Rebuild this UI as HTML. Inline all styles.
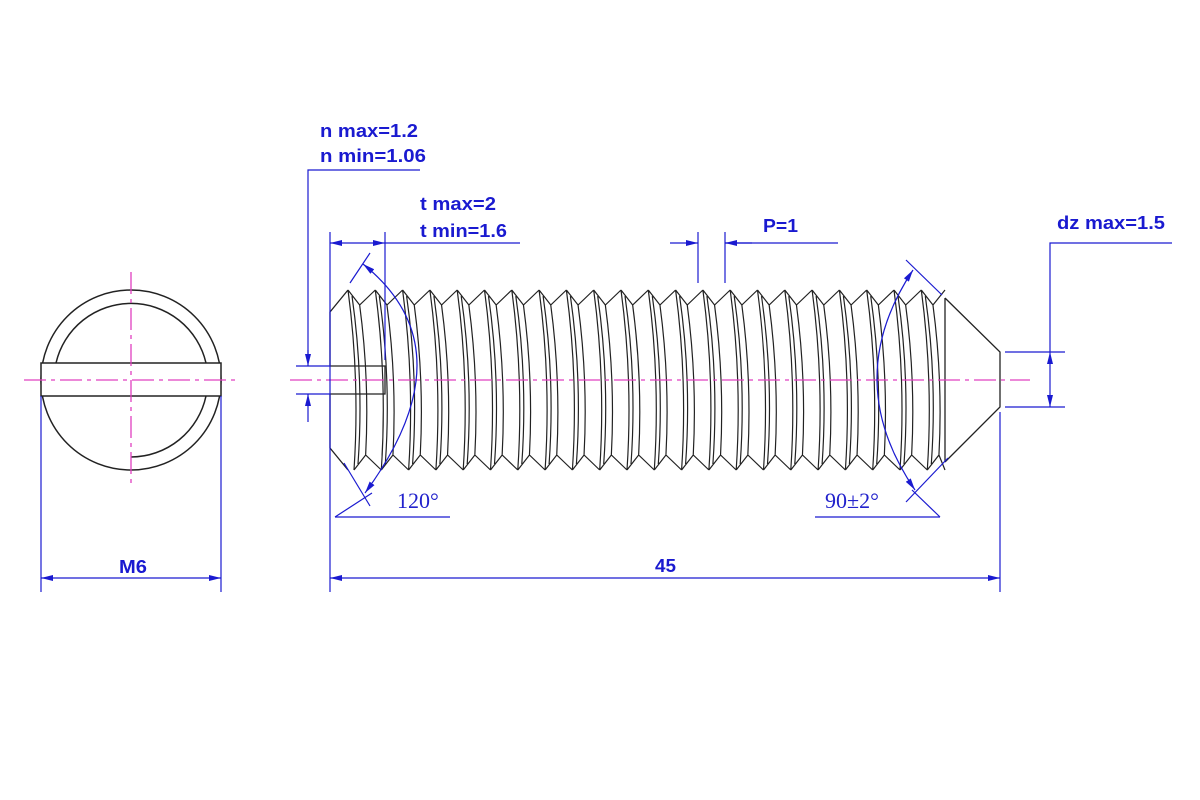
<!DOCTYPE html>
<html><head><meta charset="utf-8"><style>
html,body{margin:0;padding:0;background:#fff;}
svg{display:block}
.t{font-family:"Liberation Sans",sans-serif;font-weight:bold;font-size:18px;fill:#1a1ad0}
.s{font-family:"Liberation Serif",serif;font-size:22px;fill:#2222cc}
</style></head><body>
<svg id="s" width="1200" height="800" viewBox="0 0 1200 800" xmlns="http://www.w3.org/2000/svg">
<defs>
<marker id="a" viewBox="0 0 12 6" refX="12" refY="3" markerWidth="12" markerHeight="6" orient="auto-start-reverse" markerUnits="userSpaceOnUse"><path d="M0,0 L12,3 L0,6z" fill="#1a1ad0"/></marker>
</defs>
<g fill="none" stroke="#222" stroke-width="1.5">
<circle cx="131" cy="380" r="90"/>
<path d="M56,363 A77,77 0 0 1 206,363"/>
<path d="M206,396 A77,77 0 0 1 131,457"/>
<rect x="41" y="363" width="180" height="33" fill="#fff"/>
</g>
<g stroke="#e040c0" stroke-width="1.3" stroke-dasharray="22,5,4,5">
<line x1="24" y1="380" x2="238" y2="380"/>
<line x1="131" y1="272" x2="131" y2="488"/>
</g>
<g id="body" fill="none" stroke="#222" stroke-width="1.3">
<path d="M330,366 L330,312 L348,290"/>
<path d="M330,394 L330,448 L348,470"/>
<path d="M330,366 L385,366 L385,394 L330,394"/>
<path d="M945,298 L1000,352 L1000,407 L945,462"/>
<line x1="945" y1="298" x2="945" y2="462"/>
</g>
<g id="thr" fill="none" stroke="#222" stroke-width="1.2"></g>
<line x1="290" y1="380" x2="1030" y2="380" stroke="#e040c0" stroke-width="1.3" stroke-dasharray="22,5,4,5"/>
<g stroke="#1a1ad0" stroke-width="1.2" fill="none">
<path d="M420,170 L308,170 L308,358"/>
<line x1="296" y1="366" x2="330" y2="366"/>
<line x1="296" y1="394" x2="330" y2="394"/>
<line x1="308" y1="350" x2="308" y2="366" marker-end="url(#a)"/>
<line x1="308" y1="422" x2="308" y2="394" marker-end="url(#a)"/>
<line x1="330" y1="232" x2="330" y2="592"/>
<line x1="385" y1="232" x2="385" y2="360"/>
<line x1="330" y1="243" x2="385" y2="243" marker-start="url(#a)" marker-end="url(#a)"/>
<line x1="385" y1="243" x2="520" y2="243"/>
<line x1="698" y1="232" x2="698" y2="283"/>
<line x1="725" y1="232" x2="725" y2="283"/>
<line x1="670" y1="243" x2="698" y2="243" marker-end="url(#a)"/>
<line x1="752" y1="243" x2="725" y2="243" marker-end="url(#a)"/>
<line x1="725" y1="243" x2="838" y2="243"/>
<path d="M1172,243 L1050,243 L1050,352"/>
<line x1="1005" y1="352" x2="1065" y2="352"/>
<line x1="1005" y1="407" x2="1065" y2="407"/>
<line x1="1050" y1="380" x2="1050" y2="352" marker-end="url(#a)"/>
<line x1="1050" y1="380" x2="1050" y2="407" marker-end="url(#a)"/>
<line x1="41" y1="396" x2="41" y2="592"/>
<line x1="221" y1="396" x2="221" y2="592"/>
<line x1="41" y1="578" x2="221" y2="578" marker-start="url(#a)" marker-end="url(#a)"/>
<line x1="1000" y1="412" x2="1000" y2="592"/>
<line x1="330" y1="578" x2="1000" y2="578" marker-start="url(#a)" marker-end="url(#a)"/>
<line x1="350" y1="283" x2="370" y2="253"/>
<line x1="344" y1="463" x2="370" y2="506"/>
<path d="M363,264 Q470,350 365,493" marker-start="url(#a)" marker-end="url(#a)"/>
<line x1="335" y1="517" x2="450" y2="517"/>
<line x1="335" y1="517" x2="372" y2="493"/>
<line x1="906" y1="260" x2="942" y2="295"/>
<line x1="906" y1="502" x2="948" y2="458"/>
<path d="M913,270 Q840,380 915,490" marker-start="url(#a)" marker-end="url(#a)"/>
<line x1="815" y1="517" x2="940" y2="517"/>
<line x1="940" y1="517" x2="912" y2="490"/>
</g>
<text class="t" x="320" y="137" textLength="98" lengthAdjust="spacingAndGlyphs">n max=1.2</text>
<text class="t" x="320" y="162" textLength="106" lengthAdjust="spacingAndGlyphs">n min=1.06</text>
<text class="t" x="420" y="210" textLength="76" lengthAdjust="spacingAndGlyphs">t max=2</text>
<text class="t" x="420" y="237" textLength="87" lengthAdjust="spacingAndGlyphs">t min=1.6</text>
<text class="t" x="763" y="232" textLength="35" lengthAdjust="spacingAndGlyphs">P=1</text>
<text class="t" x="1057" y="229" textLength="108" lengthAdjust="spacingAndGlyphs">dz max=1.5</text>
<text class="t" x="119" y="573" textLength="28" lengthAdjust="spacingAndGlyphs">M6</text>
<text class="t" x="655" y="572" textLength="21" lengthAdjust="spacingAndGlyphs">45</text>
<text class="s" x="397" y="508">120°</text>
<text class="s" x="825" y="508">90±2°</text>
</svg>
<script>
var g=document.getElementById('thr'),p=27.3,d='';
for(var i=0;i<22;i++){
 var x=348+i*p;
 if(x>940)break;
 d+='M'+x+',290 L'+(x+p/2-2)+',305 L'+Math.min(x+p,945)+',290 ';
 d+='M'+(x+6)+',470 L'+(x+p/2+4)+',455 L'+Math.min(x+p+6,945)+',470 ';
 d+='M'+x+',290 Q'+(x+12)+',380 '+(x+6)+',470 ';
 d+='M'+(x+4)+',296 Q'+(x+16)+',380 '+(x+10)+',464 ';
 d+='M'+(x+p/2-2)+',305 Q'+(x+p/2+8)+',380 '+(x+p/2+4)+',455 ';
}
var pa=document.createElementNS('http://www.w3.org/2000/svg','path');
pa.setAttribute('d',d);g.appendChild(pa);
</script>
</body></html>
